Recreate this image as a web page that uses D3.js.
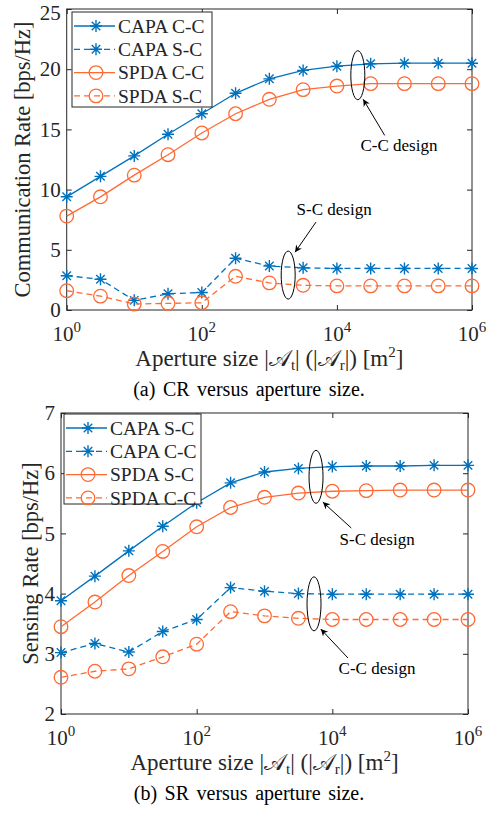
<!DOCTYPE html>
<html>
<head>
<meta charset="utf-8">
<script src="https://cdnjs.cloudflare.com/ajax/libs/d3/7.8.5/d3.min.js"></script>
<style>
body { margin: 0; background: #fff; }
text { font-family: "Liberation Serif", "Times New Roman", serif; fill: #262626; }
</style>
</head>
<body>
<script>
// aperture sizes (m^2), half-decade steps
var apertureSizes = [1, 3.162, 10, 31.62, 100, 316.2, 1000, 3162, 10000, 31623, 100000, 316228, 1000000];

// (a) communication rate [bps/Hz]
var crCapaCC = [9.4, 11.1, 12.8, 14.6, 16.3, 18.0, 19.2, 19.9, 20.25, 20.45, 20.5, 20.5, 20.5];
var crCapaSC = [2.85, 2.55, 0.8, 1.35, 1.45, 4.3, 3.65, 3.5, 3.45, 3.45, 3.45, 3.45, 3.45];
var crSpdaCC = [7.8, 9.4, 11.2, 12.9, 14.7, 16.3, 17.5, 18.3, 18.6, 18.8, 18.8, 18.8, 18.8];
var crSpdaSC = [1.6, 1.15, 0.5, 0.55, 0.6, 2.8, 2.25, 2.05, 2.0, 2.0, 2.0, 2.0, 2.0];

// (b) sensing rate [bps/Hz]
var srCapaSC = [3.88, 4.29, 4.71, 5.12, 5.51, 5.84, 6.02, 6.08, 6.11, 6.12, 6.12, 6.13, 6.13];
var srCapaCC = [3.02, 3.17, 3.03, 3.37, 3.57, 4.10, 4.04, 4.00, 3.99, 3.99, 3.99, 3.99, 3.99];
var srSpdaSC = [3.45, 3.86, 4.30, 4.70, 5.11, 5.43, 5.60, 5.67, 5.70, 5.71, 5.72, 5.72, 5.72];
var srSpdaCC = [2.61, 2.71, 2.75, 2.95, 3.16, 3.70, 3.63, 3.59, 3.57, 3.57, 3.57, 3.57, 3.57];

var xTicks = [1, 100, 10000, 1000000];
var xTickExp = ["0", "2", "4", "6"];
var crTicks = [0, 5, 10, 15, 20, 25];
var srTicks = [2, 3, 4, 5, 6, 7];

var BLUE = "#0072bd", ORANGE = "#ff6a33", AXIS = "#262626";

var svg = d3.select("body").append("svg").attr("width", 498).attr("height", 814);

svg.append("defs").append("marker")
	.attr("id", "arrowhead")
	.attr("viewBox", "0 0 10 10")
	.attr("refX", 10).attr("refY", 5)
	.attr("markerWidth", 9).attr("markerHeight", 7)
	.attr("markerUnits", "userSpaceOnUse")
	.attr("orient", "auto")
  .append("path")
	.attr("d", "M0,0L10,5L0,10L3,5Z")
	.attr("fill", "#000");

function starPath(r) {
	var d = r * 0.707;
	return "M0," + (-r) + "L0," + r + "M" + (-r) + ",0L" + r + ",0" +
		"M" + (-d) + "," + (-d) + "L" + d + "," + d + "M" + (-d) + "," + d + "L" + d + "," + (-d);
}

function drawMarker(sel, kind, color) {
	if (kind == "star") {
		sel.append("path").attr("d", starPath(6)).attr("fill", "none")
			.attr("stroke", color).attr("stroke-width", 1.4);
	} else {
		sel.append("circle").attr("r", 6.8).attr("fill", "none")
			.attr("stroke", color).attr("stroke-width", 1.3);
	}
}

var PanelChart = function(opt) {
	var x = d3.scaleLog().domain([1, 1000000]).range([opt.left, opt.right]);
	var y = d3.scaleLinear().domain([opt.yTicks[0], opt.yTicks[opt.yTicks.length - 1]]).range([opt.bottom, opt.top]);

	var g = svg.append("g");

	// axes box with inward ticks on all four sides
	g.append("g").attr("transform", "translate(0," + opt.bottom + ")")
		.call(d3.axisBottom(x).tickValues(xTicks).tickSize(-5).tickFormat(""));
	g.append("g").attr("transform", "translate(0," + opt.top + ")")
		.call(d3.axisTop(x).tickValues(xTicks).tickSize(-5).tickFormat(""));
	g.append("g").attr("transform", "translate(" + opt.left + ",0)")
		.call(d3.axisLeft(y).tickValues(opt.yTicks).tickSize(-5).tickPadding(6).tickFormat(d3.format("d")))
	  .selectAll("text")
		.attr("font-size", "21px")
		.attr("font-family", "Liberation Serif")
		.attr("fill", AXIS)
		// topmost label sits a little lower so it stays on the page
		.attr("dy", function(d) { return y(d) < 12 ? "0.5em" : "0.32em"; });
	g.append("g").attr("transform", "translate(" + opt.right + ",0)")
		.call(d3.axisRight(y).tickValues(opt.yTicks).tickSize(-5).tickFormat(""));
	g.selectAll(".domain").remove();
	g.selectAll(".tick line").attr("stroke", AXIS);
	g.append("rect")
		.attr("x", opt.left).attr("y", opt.top)
		.attr("width", opt.right - opt.left).attr("height", opt.bottom - opt.top)
		.attr("fill", "none").attr("stroke", AXIS).attr("stroke-width", 1);

	// x tick labels 10^k
	var xl = g.selectAll(".xlab").data(xTicks).enter().append("text")
		.attr("x", function(d) { return x(d); })
		.attr("y", opt.bottom + 31)
		.attr("text-anchor", "middle")
		.attr("font-size", "21px");
	xl.append("tspan").text("10");
	xl.append("tspan").attr("dy", -9).attr("font-size", "15px").text(function(d, i) { return xTickExp[i]; });

	// series
	var line = d3.line()
		.x(function(d, i) { return x(apertureSizes[i]); })
		.y(function(d) { return y(d); });

	opt.series.forEach(function(s) {
		g.append("path").datum(s.values)
			.attr("d", line)
			.attr("fill", "none")
			.attr("stroke", s.color)
			.attr("stroke-width", 1.3)
			.attr("stroke-dasharray", s.dashed ? "6,4" : null);
		g.selectAll(null).data(s.values).enter().append("g")
			.attr("transform", function(d, i) { return "translate(" + x(apertureSizes[i]) + "," + y(d) + ")"; })
			.each(function() { drawMarker(d3.select(this), s.marker, s.color); });
	});

	// annotations: ellipse + arrow + text
	opt.notes.forEach(function(n) {
		g.append("ellipse")
			.attr("cx", x(n.ex)).attr("cy", y(n.ey))
			.attr("rx", 7).attr("ry", n.ry)
			.attr("fill", "none").attr("stroke", "#000").attr("stroke-width", 1);
		g.append("line")
			.attr("x1", x(n.ax1)).attr("y1", y(n.ay1))
			.attr("x2", x(n.ax2)).attr("y2", y(n.ay2))
			.attr("stroke", "#000").attr("stroke-width", 1)
			.attr("marker-end", "url(#arrowhead)");
		g.append("text")
			.attr("x", x(n.tx)).attr("y", y(n.ty))
			.attr("text-anchor", "middle")
			.attr("font-size", "17px")
			.style("fill", "#000")
			.text(n.label);
	});

	// legend
	var lg = g.append("g");
	lg.append("rect")
		.attr("x", opt.legend.x).attr("y", opt.legend.y)
		.attr("width", opt.legend.w).attr("height", opt.legend.h)
		.attr("fill", "#fff").attr("stroke", AXIS).attr("stroke-width", 1);
	opt.series.forEach(function(s, i) {
		var ly = opt.legend.y + 14 + i * 23.3;
		var lx = opt.legend.x + 2;
		lg.append("line")
			.attr("x1", lx).attr("x2", lx + 41).attr("y1", ly).attr("y2", ly)
			.attr("stroke", s.color).attr("stroke-width", 1.3)
			.attr("stroke-dasharray", s.dashed ? "6,4" : null);
		drawMarker(lg.append("g").attr("transform", "translate(" + (lx + 22) + "," + ly + ")"), s.marker, s.color);
		lg.append("text")
			.attr("x", lx + 44).attr("y", ly + 6.7)
			.attr("font-size", "19.5px")
			.text(s.name);
	});

	// axis labels
	var xlab = g.append("text")
		.attr("x", (opt.left + opt.right) / 2)
		.attr("y", opt.bottom + 56)
		.attr("text-anchor", "middle")
		.attr("font-size", "23px");
	xlab.append("tspan").text("Aperture size |");
	xlab.append("tspan").text("\uD835\uDC9C");
	xlab.append("tspan").attr("dy", 4).attr("font-size", "15px").text("t");
	xlab.append("tspan").attr("dy", -4).text("| (|");
	xlab.append("tspan").text("\uD835\uDC9C");
	xlab.append("tspan").attr("dy", 4).attr("font-size", "15px").text("r");
	xlab.append("tspan").attr("dy", -4).text("|) [m");
	xlab.append("tspan").attr("dy", -9).attr("font-size", "15px").text("2");
	xlab.append("tspan").attr("dy", 9).text("]");

	g.append("text")
		.attr("transform", "translate(" + opt.ylabX + "," + ((opt.top + opt.bottom) / 2) + ") rotate(-90)")
		.attr("text-anchor", "middle")
		.attr("font-size", "22.5px")
		.text(opt.ylabel);

	g.append("text")
		.attr("x", 249)
		.attr("y", opt.bottom + 86)
		.attr("text-anchor", "middle")
		.attr("font-size", "20px")
		.style("fill", "#000")
		.attr("word-spacing", "2.5px")
		.text(opt.caption);
};

PanelChart({
	left: 66.7, right: 472, top: 9, bottom: 310,
	yTicks: crTicks,
	ylabel: "Communication Rate [bps/Hz]", ylabX: 30,
	caption: "(a) CR versus aperture size.",
	legend: { x: 72, y: 12, w: 140, h: 95 },
	series: [
		{ name: "CAPA C-C", values: crCapaCC, color: BLUE, marker: "star", dashed: false },
		{ name: "CAPA S-C", values: crCapaSC, color: BLUE, marker: "star", dashed: true },
		{ name: "SPDA C-C", values: crSpdaCC, color: ORANGE, marker: "circle", dashed: false },
		{ name: "SPDA S-C", values: crSpdaSC, color: ORANGE, marker: "circle", dashed: true }
	],
	notes: [
		{ label: "C-C design", ex: 20400, ey: 19.5, ry: 24.5, ax1: 51000, ay1: 14.5, ax2: 24500, ay2: 17.5, tx: 83000, ty: 13.2 },
		{ label: "S-C design", ex: 1900, ey: 2.9, ry: 24, ax1: 4900, ay1: 7.3, ax2: 2400, ay2: 4.8, tx: 9100, ty: 7.85 }
	]
});

PanelChart({
	left: 61, right: 468, top: 413, bottom: 714,
	yTicks: srTicks,
	ylabel: "Sensing Rate [bps/Hz]", ylabX: 38,
	caption: "(b) SR versus aperture size.",
	legend: { x: 64, y: 414, w: 137, h: 90 },
	series: [
		{ name: "CAPA S-C", values: srCapaSC, color: BLUE, marker: "star", dashed: false },
		{ name: "CAPA C-C", values: srCapaCC, color: BLUE, marker: "star", dashed: true },
		{ name: "SPDA S-C", values: srSpdaSC, color: ORANGE, marker: "circle", dashed: false },
		{ name: "SPDA C-C", values: srSpdaCC, color: ORANGE, marker: "circle", dashed: true }
	],
	notes: [
		{ label: "S-C design", ex: 5750, ey: 5.94, ry: 26.5, ax1: 19000, ay1: 5.09, ax2: 7250, ay2: 5.52, tx: 45700, ty: 4.81 },
		{ label: "C-C design", ex: 5370, ey: 3.83, ry: 27, ax1: 17000, ay1: 2.93, ax2: 6760, ay2: 3.41, tx: 45700, ty: 2.66 }
	]
});
</script>
</body>
</html>
